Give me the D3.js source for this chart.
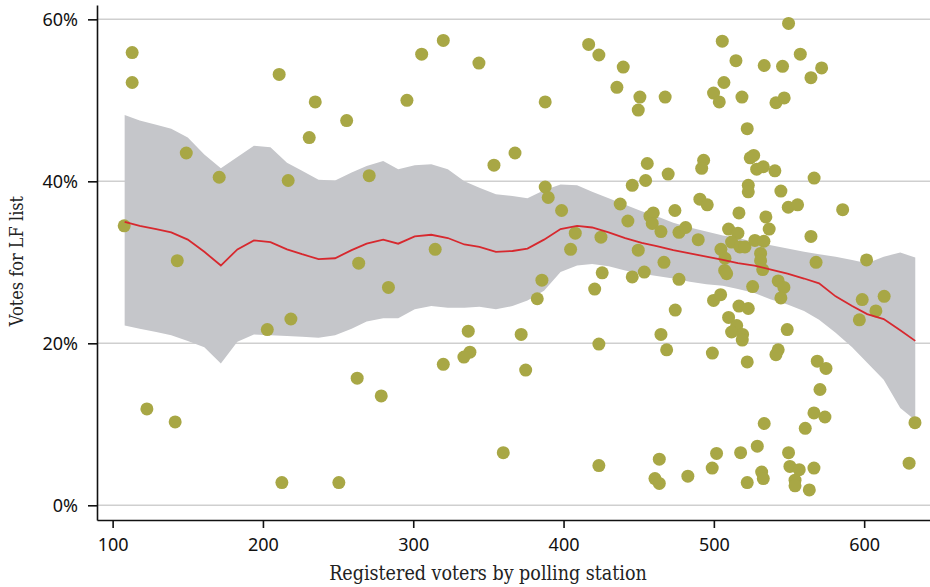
<!DOCTYPE html>
<html>
<head>
<meta charset="utf-8">
<script src="https://cdn.jsdelivr.net/npm/d3@7"></script>
<style>
  html, body { margin: 0; padding: 0; background: #fff; }
  svg { display: block; }
</style>
</head>
<body>
<svg id="chart" width="930" height="587"></svg>
<script>
// ---- Data ----
const xTicks = [100, 200, 300, 400, 500, 600];
const yTicks = [0, 20, 40, 60];
const xTitle = "Registered voters by polling station";
const yTitle = "Votes for LF list";

// polling stations: registered voters
const voters = [
  107.7,113,113,122.8,141.6,143,149,170.9,202.9,210.8,212.6,216.8,218.6,230.8,234.8,250.5,255.7,262.7,263.7,270.7,278.7,283.5,
  295.8,305.6,320.0,343.7,387.8,416.7,423.5,439.7,435.5,450.8,449.7,467.6,367.7,353.7,455.7,469.6,454.6,445.7,387.8,389.8,398.7,437.7,442.8,457.5,459.7,459.0,464.8,474.1,476.8,481.2,314.6,407.8,404.7,424.9,449.7,466.8,385.6,425.7,445.7,453.7,476.8,420.7,382.5,474.3,336.6,371.8,464.8,423.5,468.6,337.7,333.7,320.0,374.8,359.9,423.5,463.7,460.8,463.7,
  505.6,514.7,506.7,499.8,503.6,518.7,522.2,493.2,491.9,522.9,522.9,490.7,495.6,516.7,489.6,509.8,516.0,511.8,517.3,520.7,504.7,507.4,507.2,508.5,499.8,504.5,516.7,522.9,509.8,515.2,511.8,519.1,518.9,499.0,522.2,482.7,498.9,501.8,517.8,522.2,
  549.7,557.5,533.5,545.7,571.7,564.6,541.3,546.8,524.2,526.5,528.5,532.9,540.6,566.7,544.6,549.5,555.7,585.7,534.6,536.8,564.6,527.3,533.3,531.1,531.1,532.5,568.0,601.6,525.8,542.8,546.6,544.6,598.7,613.3,607.8,596.8,548.8,542.8,541.3,568.8,574.6,570.6,566.6,573.9,560.8,533.5,633.8,528.9,549.7,550.6,556.8,566.6,531.8,532.9,554.0,554.0,563.5,629.9
];
// share of votes for LF list (%)
const share = [
  34.5,55.9,52.2,11.9,10.3,30.2,43.5,40.5,21.7,53.2,2.8,40.1,23.0,45.4,49.8,2.8,47.5,15.7,29.9,40.7,13.5,26.9,
  50.0,55.7,57.4,54.6,49.8,56.9,55.6,54.1,51.6,50.4,48.8,50.4,43.5,42.0,42.2,40.9,40.1,39.5,39.3,38.0,36.4,37.2,35.1,35.7,36.1,34.8,33.8,36.4,33.7,34.3,31.6,33.6,31.6,33.1,31.5,30.0,27.8,28.7,28.2,28.8,27.9,26.7,25.5,24.1,21.5,21.1,21.1,19.9,19.2,18.9,18.3,17.4,16.7,6.5,4.9,5.7,3.3,2.7,
  57.3,54.9,52.2,50.9,49.8,50.4,46.5,42.6,41.6,39.5,38.7,37.8,37.1,36.1,32.8,34.1,33.6,32.5,31.9,31.9,31.6,30.5,29.0,28.6,25.3,26.0,24.6,24.3,23.2,22.2,21.4,21.1,20.4,18.8,17.7,3.6,4.6,6.4,6.5,2.8,
  59.5,55.7,54.3,54.2,54.0,52.8,49.7,50.3,42.9,43.2,41.5,41.8,41.3,40.4,38.8,36.8,37.1,36.5,35.6,34.1,33.2,32.7,32.6,31.1,30.2,29.1,30.0,30.3,27.0,27.7,26.9,25.6,25.4,25.8,24.0,22.9,21.7,19.2,18.6,17.8,16.9,14.3,11.4,10.9,9.5,10.1,10.2,7.3,6.5,4.8,4.4,4.6,4.1,3.3,3.1,2.4,1.9,5.2
];

// smoothed fit and confidence band
const smoothX = [108,118,129,139,150,161,172,183,194,205,216,226,237,248,259,269,280,290,301,312,323,334,344,355,366,376,387,398,409,419,430,441,452,462,473,484,495,506,516,527,538,549,560,570,581,592,602,613,624,634];
const fit   = [35.0,34.5,34.1,33.7,32.8,31.3,29.6,31.6,32.7,32.5,31.6,31.0,30.4,30.5,31.5,32.3,32.8,32.3,33.2,33.4,33.0,32.2,31.9,31.3,31.4,31.7,32.8,34.1,34.5,34.3,33.7,33.0,32.4,32.0,31.5,31.1,30.7,30.3,29.9,29.6,29.1,28.6,28.0,27.4,25.8,24.6,23.6,23.0,21.6,20.3];
const upper = [48.2,47.5,47.0,46.5,45.4,43.3,41.6,43.0,44.4,44.2,42.3,41.3,40.2,40.1,41.1,41.9,42.5,41.5,42.0,42.1,41.5,40.0,39.2,38.4,38.2,37.9,38.9,39.6,39.5,38.7,37.9,37.1,36.3,35.7,34.9,34.3,33.8,33.3,33.0,32.5,32.1,31.7,31.3,31.0,30.7,30.3,29.9,30.7,31.2,30.6];
const lower = [22.2,21.8,21.4,21.0,20.3,19.5,17.5,20.2,21.1,21.0,20.9,20.8,20.7,21.0,21.8,22.7,23.1,23.1,24.2,24.6,24.4,24.4,24.5,24.2,24.6,25.3,26.5,28.8,29.6,29.8,29.5,29.0,28.6,28.3,28.0,27.6,27.3,27.1,26.7,26.2,25.4,24.8,24.0,22.9,21.3,19.5,17.6,15.5,12.0,10.5];

// ---- Layout ----
const plot = { left: 97, right: 930, top: 5, bottom: 520 };

const svg = d3.select("#chart");

const x = d3.scaleLinear().domain([89.6, 643.8]).range([plot.left, plot.right]);
const y = d3.scaleLinear().domain([-1.815, 61.77]).range([plot.bottom, plot.top]);

const tickFont = "'Noto Sans', 'Open Sans', sans-serif";
const titleFont = "'DejaVu Serif Condensed', 'DejaVu Serif', serif";

// gridlines
svg.append("g")
  .selectAll("line")
  .data(yTicks)
  .join("line")
  .attr("x1", plot.left).attr("x2", plot.right)
  .attr("y1", d => y(d)).attr("y2", d => y(d))
  .attr("stroke", "#cfcfcf").attr("stroke-width", 1.5);

// confidence band
const bandData = smoothX.map((v, i) => ({ v, lo: lower[i], hi: upper[i], f: fit[i] }));
svg.append("path")
  .datum(bandData)
  .attr("d", d3.area().x(d => x(d.v)).y0(d => y(d.lo)).y1(d => y(d.hi)))
  .attr("fill", "#c5c6ca");

// points
const pts = voters.map((v, i) => ({ v, p: share[i] }));
svg.append("g")
  .selectAll("circle")
  .data(pts)
  .join("circle")
  .attr("cx", d => x(d.v))
  .attr("cy", d => y(d.p))
  .attr("r", 6.5)
  .attr("fill", "#a8a745");

// fitted line
svg.append("path")
  .datum(bandData)
  .attr("d", d3.line().x(d => x(d.v)).y(d => y(d.f)))
  .attr("fill", "none")
  .attr("stroke", "#d7282e")
  .attr("stroke-width", 1.8);

// axes
const xAxis = d3.axisBottom(x).tickValues(xTicks).tickSizeInner(8).tickSizeOuter(0).tickPadding(10).tickFormat(d3.format("d"));
const yAxis = d3.axisLeft(y).tickValues(yTicks).tickSizeInner(9).tickSizeOuter(0).tickPadding(10).tickFormat(d => d + "%");

const gx = svg.append("g").attr("transform", `translate(0,${plot.bottom})`).call(xAxis);
const gy = svg.append("g").attr("transform", `translate(${plot.left},0)`).call(yAxis);

[gx, gy].forEach(g => {
  g.select(".domain").attr("stroke", "#111").attr("stroke-width", 1.6);
  g.selectAll(".tick line").attr("stroke", "#111").attr("stroke-width", 1.6);
  g.selectAll(".tick text")
    .attr("fill", "#111")
    .style("font-family", tickFont)
    .style("font-size", "18px");
});
gy.selectAll(".tick text").attr("dy", "0.36em");

// axis titles
svg.append("text")
  .attr("x", 488)
  .attr("y", 580)
  .attr("text-anchor", "middle")
  .style("font-family", titleFont)
  .style("font-size", "19.5px")
  .attr("fill", "#222")
  .text(xTitle);

svg.append("text")
  .attr("transform", `translate(23,${261}) rotate(-90)`)
  .attr("text-anchor", "middle")
  .style("font-family", titleFont)
  .style("font-size", "18px")
  .attr("fill", "#222")
  .text(yTitle);
</script>
</body>
</html>
